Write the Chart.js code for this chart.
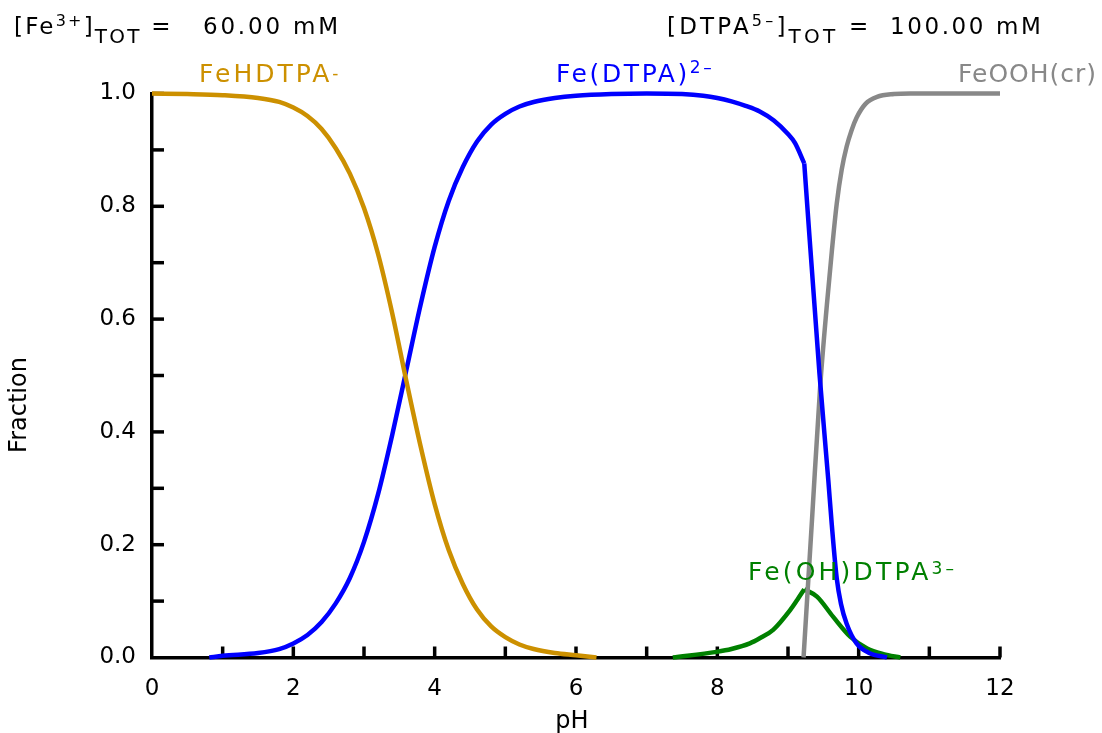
<!DOCTYPE html>
<html>
<head>
<meta charset="utf-8">
<script src="https://cdn.jsdelivr.net/npm/chart.js@4.4.1/dist/chart.umd.min.js"></script>
<style>
  html, body { margin: 0; padding: 0; background: #fff; }
  canvas { display: block; }
</style>
</head>
<body>
<canvas id="speciation" width="1102" height="733"></canvas>
<script>
// ── Data ──
const phFeHDTPA = [0, 0.5, 1.0, 1.5, 1.8, 2.0, 2.2, 2.4, 2.6, 2.8, 3.0, 3.2, 3.4, 3.6, 3.8, 4.0, 4.2, 4.4, 4.6, 4.8, 5.0, 5.2, 5.4, 5.7, 6.0, 6.29];
const fracFeHDTPA = [1.0, 0.999, 0.997, 0.992, 0.985, 0.975, 0.960, 0.937, 0.903, 0.858, 0.797, 0.715, 0.610, 0.490, 0.375, 0.272, 0.190, 0.130, 0.085, 0.055, 0.036, 0.023, 0.015, 0.008, 0.004, 0.0];

const phFeDTPA = [0.81, 1.0, 1.5, 1.8, 2.0, 2.2, 2.4, 2.6, 2.8, 3.0, 3.2, 3.4, 3.6, 3.8, 4.0, 4.2, 4.4, 4.6, 4.8, 5.0, 5.2, 5.4, 5.7, 6.0, 6.5, 7.0, 7.5, 7.8, 8.0, 8.2, 8.4, 8.6, 8.8, 9.0, 9.1, 9.23, 9.445, 9.57, 9.62, 9.69, 9.75, 9.83, 9.97, 10.15, 10.4];
const fracFeDTPA = [0.0, 0.003, 0.008, 0.015, 0.025, 0.040, 0.063, 0.096, 0.141, 0.205, 0.290, 0.395, 0.510, 0.625, 0.728, 0.810, 0.870, 0.915, 0.945, 0.964, 0.977, 0.985, 0.992, 0.996, 0.999, 1.0, 0.999, 0.996, 0.992, 0.986, 0.978, 0.968, 0.952, 0.928, 0.912, 0.876, 0.504, 0.315, 0.235, 0.140, 0.095, 0.060, 0.025, 0.008, 0.0];

const phFeOOH = [9.22, 9.34, 9.455, 9.55, 9.62, 9.69, 9.76, 9.83, 9.9, 9.97, 10.1, 10.26, 10.5, 10.73, 12];
const fracFeOOH = [0.0, 0.245, 0.48, 0.625, 0.72, 0.805, 0.865, 0.906, 0.935, 0.957, 0.982, 0.994, 0.999, 1.0, 1.0];

const phFeOHDTPA = [7.37, 7.99, 8.2, 8.46, 8.6, 8.79, 9.03, 9.13, 9.23, 9.41, 9.64, 9.88, 10.12, 10.35, 10.59];
const fracFeOHDTPA = [0.0, 0.010, 0.015, 0.025, 0.034, 0.049, 0.084, 0.102, 0.121, 0.108, 0.072, 0.037, 0.016, 0.006, 0.0];

const xTickLabels = ['0', '2', '4', '6', '8', '10', '12'];
const yTickLabels = ['0.0', '0.2', '0.4', '0.6', '0.8', '1.0'];

const colors = {
    gold: '#cc9000',
    blue: '#0000ff',
    gray: '#888888',
    green: '#008000',
    ink: '#000000'
};

const FONT = "'DejaVu Sans', Verdana, sans-serif";

function toPoints(xs, ys) {
    return xs.map((x, i) => ({ x: x, y: ys[i] }));
}

// one curve, optionally split at a sharp corner (index shared by both parts)
function series(label, xs, ys, color, breakAt) {
    const pts = toPoints(xs, ys);
    const parts = breakAt == null ? [pts] : [pts.slice(0, breakAt + 1), pts.slice(breakAt)];
    return parts.map(p => ({
        label: label,
        data: p,
        borderColor: color,
        borderWidth: 4.5,
        pointRadius: 0,
        fill: false,
        cubicInterpolationMode: 'monotone',
        clip: false
    }));
}

// ── Rich text helper: runs of {t, size, dy} drawn left to right ──
function drawRuns(ctx, runs, x, y, color, spacing) {
    ctx.save();
    ctx.fillStyle = color;
    ctx.textAlign = 'left';
    ctx.textBaseline = 'alphabetic';
    ctx.letterSpacing = (spacing || 0) + 'px';
    let cx = x;
    runs.forEach(r => {
        ctx.font = r.size + 'px ' + FONT;
        ctx.fillText(r.t, cx, y + (r.dy || 0));
        cx += ctx.measureText(r.t).width;
    });
    ctx.restore();
}

// ── Inward ticks, labels and headers ──
const decorations = {
    id: 'decorations',
    beforeDatasetsDraw(chart) {
        const { ctx, chartArea, scales } = chart;
        ctx.save();
        ctx.strokeStyle = colors.ink;
        ctx.lineWidth = 3.5;
        scales.x.ticks.forEach(t => {
            if (t.value === 0) return;
            const px = scales.x.getPixelForValue(t.value);
            ctx.beginPath();
            ctx.moveTo(px, chartArea.bottom);
            ctx.lineTo(px, chartArea.bottom - 11);
            ctx.stroke();
        });
        scales.y.ticks.forEach(t => {
            if (Math.round(t.value * 10) === 0) return;
            const py = scales.y.getPixelForValue(t.value);
            ctx.beginPath();
            ctx.moveTo(chartArea.left, py);
            ctx.lineTo(chartArea.left + 12, py);
            ctx.stroke();
        });
        ctx.restore();
    },
    afterDraw(chart) {
        const ctx = chart.ctx;

        // header
        drawRuns(ctx, [
            { t: '[Fe', size: 23 },
            { t: '3+', size: 16, dy: -8 },
            { t: ']', size: 23 },
            { t: 'TOT', size: 20, dy: 9 },
            { t: ' =', size: 23 }
        ], 14, 34, colors.ink, 2.2);
        drawRuns(ctx, [{ t: '60.00 mM', size: 23 }], 203, 34, colors.ink, 2.8);

        drawRuns(ctx, [
            { t: '[DTPA', size: 23 },
            { t: '5\u2013', size: 16, dy: -8 },
            { t: ']', size: 23 },
            { t: 'TOT', size: 20, dy: 9 },
            { t: ' =', size: 23 }
        ], 667, 34, colors.ink, 3.2);
        drawRuns(ctx, [{ t: '100.00 mM', size: 23 }], 890, 34, colors.ink, 2.6);

        // species labels
        drawRuns(ctx, [
            { t: 'FeHDTPA', size: 25 },
            { t: '-', size: 17, dy: -3 }
        ], 199, 82, colors.gold, 3);
        drawRuns(ctx, [
            { t: 'Fe(DTPA)', size: 25 },
            { t: '2\u2013', size: 17, dy: -9 }
        ], 556, 82, colors.blue, 2.6);
        drawRuns(ctx, [{ t: 'FeOOH(cr)', size: 25 }], 958, 82, colors.gray, 1);
        drawRuns(ctx, [
            { t: 'Fe(OH)DTPA', size: 25 },
            { t: '3\u2013', size: 17, dy: -6 }
        ], 748, 580, colors.green, 3.2);

        // axis titles
        ctx.save();
        ctx.fillStyle = colors.ink;
        ctx.font = '24px ' + FONT;
        ctx.textAlign = 'center';
        ctx.textBaseline = 'alphabetic';
        ctx.fillText('pH', 572, 728);
        ctx.translate(26, 405);
        ctx.rotate(-Math.PI / 2);
        ctx.fillText('Fraction', 0, 0);
        ctx.restore();
    }
};

new Chart(document.getElementById('speciation'), {
    type: 'line',
    data: {
        datasets: [
            ...series('FeHDTPA-', phFeHDTPA, fracFeHDTPA, colors.gold),
            ...series('Fe(DTPA)2-', phFeDTPA, fracFeDTPA, colors.blue, phFeDTPA.indexOf(9.23)),
            ...series('FeOOH(cr)', phFeOOH, fracFeOOH, colors.gray),
            ...series('Fe(OH)DTPA3-', phFeOHDTPA, fracFeOHDTPA, colors.green, phFeOHDTPA.indexOf(9.23))
        ]
    },
    options: {
        responsive: false,
        animation: false,
        layout: { padding: { top: 93.5, right: 102, left: 0, bottom: 0 } },
        plugins: {
            legend: { display: false },
            tooltip: { enabled: false }
        },
        scales: {
            x: {
                type: 'linear',
                min: 0,
                max: 12,
                grid: { display: false, drawTicks: false },
                border: { display: true, color: colors.ink, width: 3.5 },
                ticks: {
                    stepSize: 1,
                    autoSkip: false,
                    maxRotation: 0,
                    padding: 18,
                    color: colors.ink,
                    font: { family: FONT, size: 23 },
                    callback: (v) => (v % 2 === 0 ? xTickLabels[v / 2] : '')
                },
                afterFit: (s) => { s.height = 75.5; }
            },
            y: {
                type: 'linear',
                min: 0,
                max: 1,
                grid: { display: false, drawTicks: false },
                border: { display: true, color: colors.ink, width: 3.5 },
                ticks: {
                    stepSize: 0.1,
                    autoSkip: false,
                    padding: 16,
                    color: colors.ink,
                    font: { family: FONT, size: 23 },
                    callback: (v) => {
                        const i = Math.round(v * 10);
                        return i % 2 === 0 ? yTickLabels[i / 2] : '';
                    }
                },
                afterFit: (s) => { s.width = 152; }
            }
        }
    },
    plugins: [decorations]
});
</script>
</body>
</html>
